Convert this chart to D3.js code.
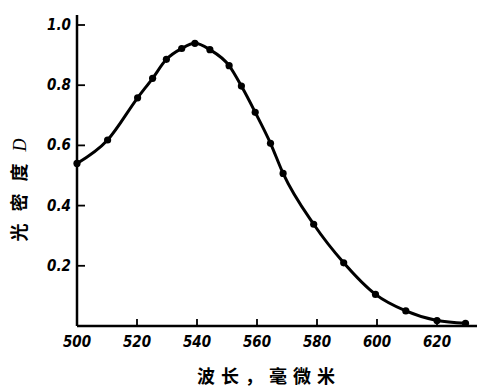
<!DOCTYPE html>
<html>
<head>
<meta charset="utf-8">
<script src="https://cdn.jsdelivr.net/npm/d3@7"></script>
<style>
  body { margin: 0; background: #fff; }
  .tick-label { font-family: "Liberation Sans Narrow", "DejaVu Sans Condensed", sans-serif; font-weight: bold; font-style: italic; font-size: 15px; }
  .cjk { font-family: "Noto Sans CJK SC", sans-serif; font-weight: bold; }
</style>
</head>
<body>
<div id="chart"></div>
<script>
const width = 479;
const height = 387;

// Data.
const wavelengths = [500, 510.2, 520.2, 525.2, 529.8, 534.9, 539.3, 544.3, 550.7, 554.8, 559.4, 564.5, 568.7, 578.9, 588.9, 599.5, 609.6, 620, 629.5];
const density = [0.54, 0.618, 0.758, 0.823, 0.886, 0.922, 0.939, 0.918, 0.865, 0.797, 0.71, 0.607, 0.507, 0.338, 0.21, 0.105, 0.05, 0.018, 0.009];
const xTicks = [500, 520, 540, 560, 580, 600, 620];
const yTicks = [0.2, 0.4, 0.6, 0.8, 1.0];

const points = wavelengths.map((w, i) => ({ w: w, d: density[i] }));

const x = d3.scaleLinear().domain([500, 630]).range([77, 467]);
const y = d3.scaleLinear().domain([0, 1]).range([326, 25]);

const svg = d3.select("#chart")
  .append("svg")
  .attr("width", width)
  .attr("height", height);

// axes
svg.append("line")
  .attr("x1", x(500)).attr("x2", 477)
  .attr("y1", y(0)).attr("y2", y(0))
  .attr("stroke", "#000").attr("stroke-width", 2.5);

svg.append("line")
  .attr("x1", x(500)).attr("x2", x(500))
  .attr("y1", 15).attr("y2", y(0))
  .attr("stroke", "#000").attr("stroke-width", 2.5);

svg.selectAll(".xt")
  .data(xTicks.slice(1))
  .join("line")
  .attr("x1", d => x(d)).attr("x2", d => x(d))
  .attr("y1", y(0)).attr("y2", y(0) - 7)
  .attr("stroke", "#000").attr("stroke-width", 1.8);

svg.selectAll(".yt")
  .data(yTicks)
  .join("line")
  .attr("x1", x(500)).attr("x2", x(500) + 8)
  .attr("y1", d => y(d)).attr("y2", d => y(d))
  .attr("stroke", "#000").attr("stroke-width", 1.8);

svg.selectAll(".xl")
  .data(xTicks)
  .join("text")
  .attr("class", "tick-label")
  .attr("x", d => x(d))
  .attr("y", y(0) + 21)
  .attr("text-anchor", "middle")
  .text(d => d);

svg.selectAll(".yl")
  .data(yTicks)
  .join("text")
  .attr("class", "tick-label")
  .attr("x", x(500) - 6)
  .attr("y", d => y(d) + 5)
  .attr("text-anchor", "end")
  .text(d => d.toFixed(1));

// axis titles
svg.append("text")
  .attr("class", "cjk")
  .attr("x", 269)
  .attr("y", 383)
  .attr("text-anchor", "middle")
  .attr("font-size", 18)
  .attr("letter-spacing", 6)
  .text("波长，毫微米");

const yTitle = svg.append("text")
  .attr("transform", "translate(26,190) rotate(-90)")
  .attr("text-anchor", "middle")
  .attr("font-size", 18);
yTitle.append("tspan").attr("class", "cjk").attr("letter-spacing", 12).text("光密度");
yTitle.append("tspan")
  .attr("font-family", "Liberation Serif, serif")
  .attr("font-style", "italic")
  .text("D");

// curve and points
const line = d3.line()
  .x(d => x(d.w))
  .y(d => y(d.d))
  .curve(d3.curveMonotoneX);

svg.append("path")
  .datum(points)
  .attr("fill", "none")
  .attr("stroke", "#000")
  .attr("stroke-width", 3)
  .attr("d", line);

svg.selectAll(".pt")
  .data(points)
  .join("circle")
  .attr("cx", d => x(d.w))
  .attr("cy", d => y(d.d))
  .attr("r", 3.6)
  .attr("fill", "#000");
</script>
</body>
</html>
